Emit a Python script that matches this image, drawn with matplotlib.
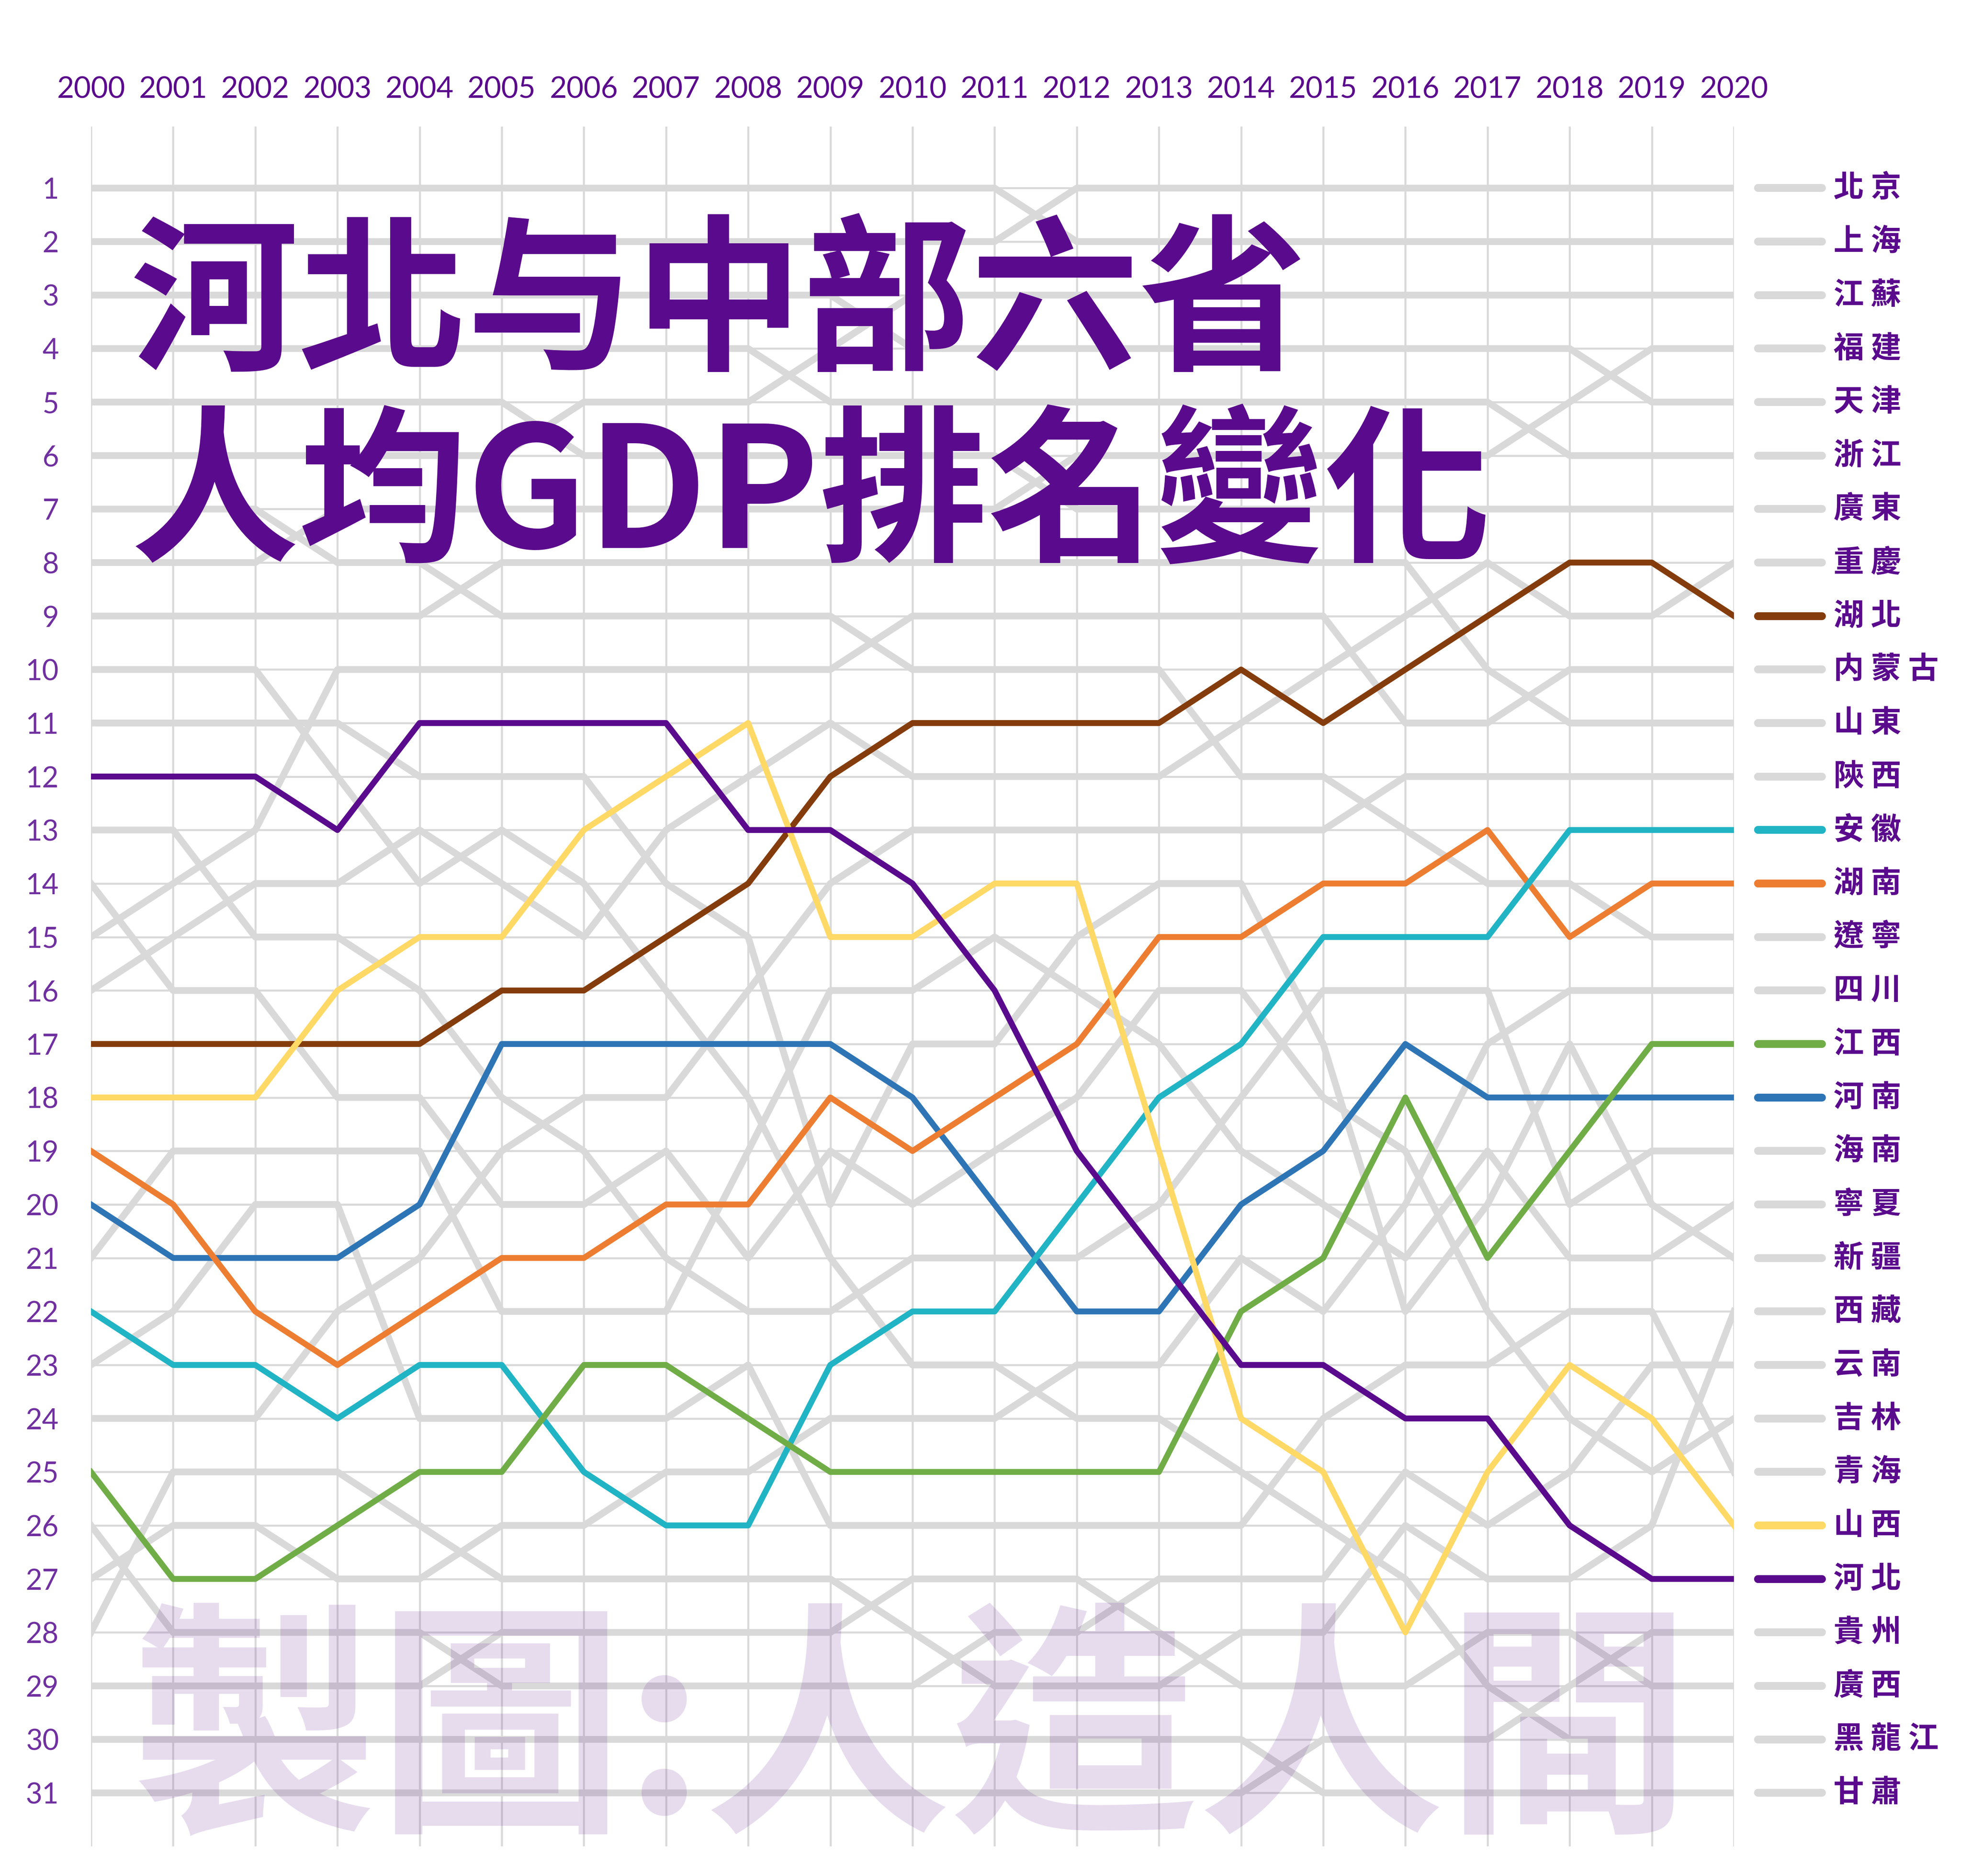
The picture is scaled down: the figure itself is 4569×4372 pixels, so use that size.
# Bump chart: per-capita GDP rank of Hebei and the six central provinces, 2000-2020
import matplotlib
matplotlib.use("Agg")
import matplotlib.pyplot as plt

years = list(range(2000, 2021))

# highlighted provinces (rank per year, 2000 -> 2020)
hubei   = [17, 17, 17, 17, 17, 16, 16, 15, 14, 12, 11, 11, 11, 11, 10, 11, 10, 9, 8, 8, 9]
henan   = [20, 21, 21, 21, 20, 17, 17, 17, 17, 17, 18, 20, 22, 22, 20, 19, 17, 18, 18, 18, 18]
hunan   = [19, 20, 22, 23, 22, 21, 21, 20, 20, 18, 19, 18, 17, 15, 15, 14, 14, 13, 15, 14, 14]
anhui   = [22, 23, 23, 24, 23, 23, 25, 26, 26, 23, 22, 22, 20, 18, 17, 15, 15, 15, 13, 13, 13]
jiangxi = [25, 27, 27, 26, 25, 25, 23, 23, 24, 25, 25, 25, 25, 25, 22, 21, 18, 21, 19, 17, 17]
shanxi  = [18, 18, 18, 16, 15, 15, 13, 12, 11, 15, 15, 14, 14, 19, 24, 25, 28, 25, 23, 24, 26]
hebei   = [12, 12, 12, 13, 11, 11, 11, 11, 13, 13, 14, 16, 19, 21, 23, 23, 24, 24, 26, 27, 27]

# other provinces (grey)
beijing      = [2] * 12 + [1] * 9
shanghai     = [1] * 12 + [2] * 9
jiangsu      = [6] * 6 + [5] * 3 + [4] + [3] * 11
fujian       = [8] * 3 + [7] * 9 + [6] * 6 + [5] + [4] * 2
tianjin      = [3] * 10 + [4] * 9 + [5] * 2
zhejiang     = [4] * 9 + [5] * 9 + [6] * 3
guangdong    = [5] * 6 + [6] * 6 + [7] * 9
chongqing    = [16, 15, 14, 14, 13, 14, 15, 13, 12, 11, 12, 12, 12, 12, 11, 10, 9, 8, 9, 9, 8]
neimenggu    = [15, 14, 13, 10, 10, 10, 10, 10, 10, 10, 9, 9, 9, 9, 9, 9, 11, 11, 10, 10, 10]
shandong     = [9] * 5 + [8] * 12 + [10] + [11] * 3
shaanxi      = [24, 24, 24, 22, 21, 19, 18, 18, 16, 14, 13, 13, 13, 13, 13, 13, 12, 12, 12, 12, 12]
liaoning     = [7, 7, 7, 8, 8, 9, 9, 9, 9, 9, 10, 10, 10, 10, 12, 12, 13, 14, 14, 15, 15]
sichuan      = [27, 26, 26, 27, 27, 26, 26, 25, 25, 24, 24, 24, 23, 23, 21, 22, 20, 17, 16, 16, 16]
hainan       = [13, 13, 15, 15, 16, 18, 19, 21, 22, 22, 21, 21, 21, 20, 18, 16, 16, 16, 20, 19, 19]
ningxia      = [21, 19, 19, 19, 19, 22, 22, 22, 19, 16, 16, 15, 16, 17, 19, 20, 21, 19, 21, 21, 20]
xinjiang     = [11, 11, 11, 11, 12, 12, 12, 14, 15, 20, 17, 17, 15, 14, 14, 17, 22, 20, 17, 20, 21]
xizang       = [28, 25, 25, 25, 26, 27, 27, 27, 27, 27, 28, 29, 29, 29, 28, 28, 26, 27, 27, 26, 22]
yunnan       = [26, 28, 28, 28, 28, 29, 29, 29, 29, 29, 29, 28, 28, 27, 27, 27, 25, 26, 25, 23, 23]
jilin        = [14, 16, 16, 18, 18, 20, 20, 19, 21, 19, 20, 19, 18, 16, 16, 18, 19, 22, 24, 25, 24]
qinghai      = [23, 22, 20, 20, 24, 24, 24, 24, 23, 26, 26, 26, 26, 26, 26, 24, 23, 23, 22, 22, 25]
guizhou      = [31] * 15 + [30] * 3 + [29, 28, 28]
guangxi      = [29] * 5 + [28] * 5 + [27] * 3 + [28] + [29] * 3 + [28, 28, 29, 29]
heilongjiang = [10, 10, 10, 12, 14, 13, 14, 16, 18, 21, 23, 23, 24, 24, 25, 26, 27, 29, 30, 30, 30]
gansu        = [30] * 15 + [31] * 6

grey_series = [
    ("北京", beijing), ("上海", shanghai), ("江蘇", jiangsu), ("福建", fujian),
    ("天津", tianjin), ("浙江", zhejiang), ("廣東", guangdong), ("重慶", chongqing),
    ("内蒙古", neimenggu), ("山東", shandong), ("陝西", shaanxi), ("遼寧", liaoning),
    ("四川", sichuan), ("海南", hainan), ("寧夏", ningxia), ("新疆", xinjiang),
    ("西藏", xizang), ("云南", yunnan), ("吉林", jilin), ("青海", qinghai),
    ("貴州", guizhou), ("廣西", guangxi), ("黑龍江", heilongjiang), ("甘肅", gansu),
]
color_series = [
    ("湖北", hubei, "#843C0C"),
    ("河南", henan, "#2E75B6"),
    ("湖南", hunan, "#ED7D31"),
    ("安徽", anhui, "#21B4C4"),
    ("江西", jiangxi, "#70AD47"),
    ("山西", shanxi, "#FFD966"),
    ("河北", hebei, "#5A0A8C"),
]

PURPLE = "#5A0A8C"
GREY = "#D9D9D9"
CJK = ["Noto Sans CJK TC", "DejaVu Sans"]
plt.rcParams["font.family"] = CJK

W, H = 4569, 4372
fig = plt.figure(figsize=(W / 300, H / 300), dpi=300)
ax = fig.add_axes([212 / W, 1 - 4303 / H, (4040 - 212) / W, (4303 - 295) / H])
ax.set_xlim(2000, 2020)
ax.set_ylim(32, -0.15)

ax.set_xticks(years)
ax.set_yticks(range(1, 32))
ax.xaxis.tick_top()
ax.grid(color=GREY, lw=1.1)
ax.set_axisbelow(True)
for s in ax.spines.values():
    s.set_visible(False)
ax.tick_params(axis="x", length=0, pad=13, labelsize=16.5, labelcolor=PURPLE,
               labelfontfamily="Lato")
ax.tick_params(axis="y", length=0, pad=18, labelsize=16, labelcolor="#7030A0",
               labelfontfamily="Lato")

# grey lines, then the coloured ones on top
for name, r in grey_series:
    ax.plot(years, r, color=GREY, lw=3.8, solid_joinstyle="round", zorder=2)

for name, r, c in color_series:
    ax.plot(years, r, color=c, lw=3.3, solid_joinstyle="round", zorder=3)

# stubs and names at the right, in the 2020 order
for name, r in grey_series:
    ax.plot([2020.29, 2021.07], [r[-1], r[-1]], color=GREY, lw=4.4,
            solid_capstyle="round", clip_on=False, zorder=2)
    ax.text(2021.21, r[-1], " ".join(name), va="center", ha="left", fontsize=17,
            fontweight="bold", color=PURPLE, clip_on=False)
for name, r, c in color_series:
    ax.plot([2020.29, 2021.07], [r[-1], r[-1]], color=c, lw=4.4,
            solid_capstyle="round", clip_on=False, zorder=3)
    ax.text(2021.21, r[-1], " ".join(name), va="center", ha="left", fontsize=17,
            fontweight="bold", color=PURPLE, clip_on=False)

# title
fig.text(304 / W, 1 - 717 / H, "河北与中部六省", fontsize=94, fontweight="bold",
         color=PURPLE, va="center", ha="left", zorder=20)
fig.text(304 / W, 1 - 1162 / H, "人均GDP排名變化", fontsize=94, fontweight="bold",
         color=PURPLE, va="center", ha="left", zorder=20)

# watermark
fig.text(305 / W, 1 - 4057 / H, "製圖:人造人間", fontsize=138, fontweight="bold",
         color=PURPLE, alpha=0.14, va="center", ha="left", zorder=20)

fig.savefig("out.png", dpi=300)
